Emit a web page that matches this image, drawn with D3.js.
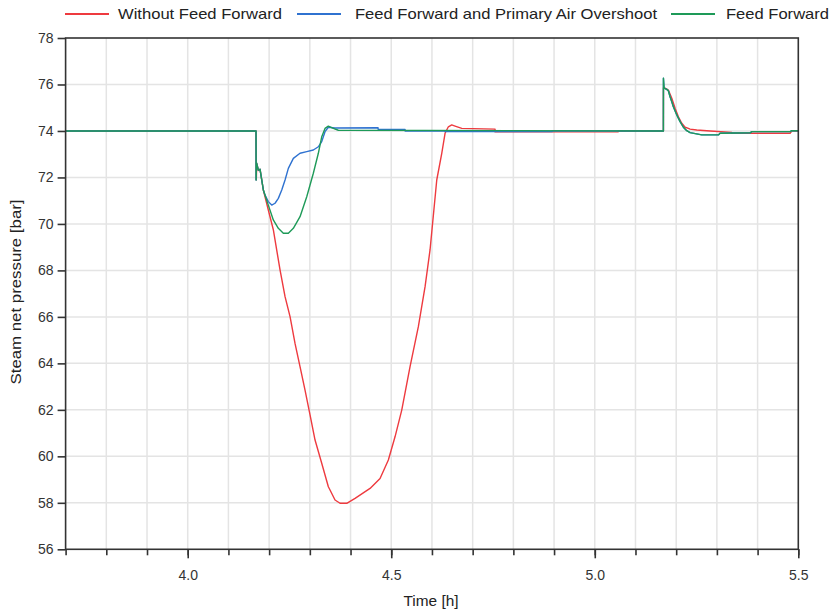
<!DOCTYPE html>
<html>
<head>
<meta charset="utf-8">
<script src="https://cdn.jsdelivr.net/npm/d3@7/dist/d3.min.js"></script>
<style>
  html, body { margin: 0; padding: 0; background: #fff; }
  svg { display: block; font-family: "Liberation Sans", Arial, sans-serif; }
</style>
</head>
<body>
<svg id="chart" width="837" height="612"></svg>
<script>
// Steam net pressure [bar] against time [h], three controller variants
const seriesNames = ["Without Feed Forward", "Feed Forward and Primary Air Overshoot", "Feed Forward"];
const seriesColors = ["#ee3a3f", "#2f72d0", "#1e9a58"];

const withoutFF = [
  [3.7, 74.0], [4.1678, 74.0], [4.1685, 71.9], [4.1695, 72.6], [4.1735, 72.3], [4.1777, 72.35],
  [4.1858, 71.46], [4.1899, 71.17], [4.1980, 70.6], [4.2103, 69.75], [4.2268, 68.02],
  [4.2391, 66.87], [4.2514, 66.01], [4.2636, 64.86], [4.2759, 63.86], [4.2882, 62.85],
  [4.3005, 61.78], [4.3128, 60.70], [4.3292, 59.70], [4.3455, 58.69], [4.3496, 58.55],
  [4.3619, 58.12], [4.3742, 57.98], [4.3907, 57.98], [4.4111, 58.19], [4.4479, 58.62],
  [4.4725, 59.05], [4.4929, 59.84], [4.5093, 60.84], [4.5258, 61.99], [4.5462, 63.86],
  [4.5666, 65.58], [4.5831, 67.30], [4.5953, 68.88], [4.6118, 71.89], [4.6241, 73.04],
  [4.6322, 73.90], [4.6403, 74.18], [4.6486, 74.26], [4.6568, 74.21], [4.6732, 74.11],
  [4.7550, 74.08], [4.7551, 73.96], [5.0572, 73.96], [5.0573, 74.0], [5.1686, 74.0],
  [5.1687, 75.85], [5.1727, 75.84], [5.1808, 75.76], [5.1892, 75.41], [5.1973, 74.98],
  [5.2054, 74.61], [5.2137, 74.33], [5.2219, 74.16], [5.2300, 74.11], [5.2341, 74.08],
  [5.2506, 74.04], [5.2833, 74.0], [5.3366, 73.94], [5.3367, 73.90], [5.4798, 73.90],
  [5.4840, 74.0], [5.4995, 74.0]
];

const ffPrimaryAir = [
  [3.7, 74.0], [4.1678, 74.0], [4.1680, 71.89], [4.1690, 72.63], [4.1735, 72.32], [4.1777, 72.35],
  [4.1858, 71.46], [4.1899, 71.24], [4.1980, 70.96], [4.2064, 70.81], [4.2145, 70.89],
  [4.2226, 71.10], [4.2310, 71.46], [4.2391, 71.89], [4.2472, 72.39], [4.2595, 72.82],
  [4.2759, 73.04], [4.2924, 73.11], [4.3086, 73.18], [4.3209, 73.32], [4.3292, 73.54],
  [4.3373, 73.97], [4.3455, 74.16], [4.3619, 74.13], [4.4676, 74.14], [4.4677, 74.07],
  [4.5339, 74.07], [4.5340, 74.0], [4.6322, 74.0], [4.6323, 73.97], [4.8951, 73.97],
  [4.8952, 74.0], [5.1686, 74.0], [5.1687, 76.27], [5.1703, 75.84], [5.1769, 75.79],
  [5.1808, 75.73], [5.1850, 75.47], [5.1892, 75.26], [5.1931, 75.04], [5.2015, 74.69],
  [5.2096, 74.40], [5.2177, 74.16], [5.2260, 74.01], [5.2341, 73.93], [5.2629, 73.83],
  [5.3037, 73.83], [5.3078, 73.90], [5.3816, 73.92], [5.3858, 73.97], [5.4798, 73.97],
  [5.4840, 74.01], [5.5, 74.01]
];

const withFF = [
  [3.7, 74.0], [4.1678, 74.0], [4.1680, 71.89], [4.1690, 72.63], [4.1735, 72.32], [4.1777, 72.35],
  [4.1858, 71.46], [4.1980, 70.81], [4.2103, 70.17], [4.2226, 69.81], [4.2349, 69.60],
  [4.2472, 69.60], [4.2595, 69.81], [4.2759, 70.31], [4.2924, 71.17], [4.3086, 72.18],
  [4.3209, 73.04], [4.3292, 73.75], [4.3373, 74.11], [4.3455, 74.21], [4.3577, 74.11],
  [4.3700, 74.03], [5.1686, 74.0], [5.1687, 76.27], [5.1703, 75.84], [5.1769, 75.79],
  [5.1808, 75.73], [5.1850, 75.47], [5.1892, 75.26], [5.1931, 75.04], [5.2015, 74.69],
  [5.2096, 74.40], [5.2177, 74.16], [5.2260, 74.01], [5.2341, 73.93], [5.2629, 73.83],
  [5.3037, 73.83], [5.3078, 73.90], [5.3816, 73.92], [5.3858, 73.97], [5.4798, 73.97],
  [5.4840, 74.01], [5.5, 74.01]
];

const xMajorTicks = [4.0, 4.5, 5.0, 5.5];
const xMinorTicks = [3.7, 3.8, 3.9, 4.0, 4.1, 4.2, 4.3, 4.4, 4.5, 4.6, 4.7, 4.8, 4.9, 5.0, 5.1, 5.2, 5.3, 5.4, 5.5];
const yTicks = [56, 58, 60, 62, 64, 66, 68, 70, 72, 74, 76, 78];

const svg = d3.select("#chart");
const plotLeft = 65.6, plotRight = 798.3, plotTop = 38, plotBottom = 549.3;

const x = d3.scaleLinear().domain([3.7, 5.5]).range([plotLeft, plotRight]);
const y = d3.scaleLinear().domain([56, 78]).range([plotBottom, plotTop]);

// grid
const grid = svg.append("g").attr("stroke", "#e4e4e4").attr("stroke-width", 1.5);
grid.selectAll("line.vx").data(xMinorTicks.slice(1, -1)).join("line")
  .attr("x1", d => x(d)).attr("x2", d => x(d)).attr("y1", plotTop).attr("y2", plotBottom);
grid.selectAll("line.hy").data(yTicks.slice(1, -1)).join("line")
  .attr("x1", plotLeft).attr("x2", plotRight).attr("y1", d => y(d)).attr("y2", d => y(d));

// series (red first, green on top)
const line = d3.line().x(d => x(d[0])).y(d => y(d[1]));
const allSeries = [withoutFF, ffPrimaryAir, withFF];
svg.append("g").selectAll("path").data(allSeries).join("path")
  .attr("d", d => line(d))
  .attr("fill", "none")
  .attr("stroke", (d, i) => seriesColors[i])
  .attr("stroke-width", 1.4)
  .attr("stroke-linejoin", "round");

// frame
svg.append("rect").attr("x", plotLeft).attr("y", plotTop)
  .attr("width", plotRight - plotLeft).attr("height", plotBottom - plotTop)
  .attr("fill", "none").attr("stroke", "#333").attr("stroke-width", 1.6);

// x axis (minor ticks every 0.1, labelled major ticks every 0.5)
const xMinorAxis = d3.axisBottom(x).tickValues(xMinorTicks).tickSize(6).tickFormat("");
const xMajorAxis = d3.axisBottom(x).tickValues(xMajorTicks).tickSize(9).tickPadding(12)
  .tickFormat(d3.format(".1f"));
const gxm = svg.append("g").attr("transform", `translate(0,${plotBottom})`).call(xMinorAxis);
const gx = svg.append("g").attr("transform", `translate(0,${plotBottom})`).call(xMajorAxis);
[gxm, gx].forEach(g => {
  g.select(".domain").remove();
  g.selectAll(".tick line").attr("stroke", "#333").attr("stroke-width", 1.6);
});
gx.selectAll(".tick text").attr("font-size", 14).attr("fill", "#333")
  .attr("font-family", "Liberation Sans, Arial, sans-serif");

// y axis
const yAxis = d3.axisLeft(y).tickValues(yTicks).tickSize(8).tickPadding(4).tickFormat(d3.format("d"));
const gy = svg.append("g").attr("transform", `translate(${plotLeft},0)`).call(yAxis);
gy.select(".domain").remove();
gy.selectAll(".tick line").attr("stroke", "#333").attr("stroke-width", 1.6);
gy.selectAll(".tick text").attr("font-size", 14).attr("fill", "#333")
  .attr("font-family", "Liberation Sans, Arial, sans-serif");

// axis titles
svg.append("text").attr("x", 431).attr("y", 606).attr("text-anchor", "middle")
  .attr("font-size", 14).attr("fill", "#222")
  .attr("textLength", 55).attr("lengthAdjust", "spacingAndGlyphs").text("Time [h]");
svg.append("text").attr("transform", "translate(21,292) rotate(-90)").attr("text-anchor", "middle")
  .attr("font-size", 14).attr("fill", "#222")
  .attr("textLength", 185).attr("lengthAdjust", "spacingAndGlyphs").text("Steam net pressure [bar]");

// legend
const legendItems = [
  { lx: 65, tx: 118, w: 164 },
  { lx: 297, tx: 355, w: 302 },
  { lx: 671, tx: 726, w: 103 }
];
const lg = svg.append("g");
legendItems.forEach((it, i) => {
  lg.append("line").attr("x1", it.lx).attr("x2", it.lx + 44).attr("y1", 14).attr("y2", 14)
    .attr("stroke", seriesColors[i]).attr("stroke-width", 1.8);
  lg.append("text").attr("x", it.tx).attr("y", 19).attr("font-size", 15).attr("fill", "#222")
    .attr("textLength", it.w).attr("lengthAdjust", "spacingAndGlyphs")
    .text(seriesNames[i]);
});
</script>
</body>
</html>
